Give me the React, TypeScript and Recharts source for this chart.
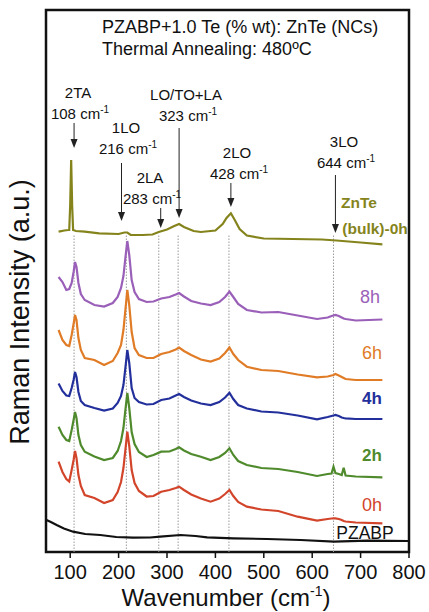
import { LineChart, Line, XAxis, YAxis, ReferenceLine, ReferenceArea } from 'recharts';

// Raman spectra, ZnTe nanocrystals in PZABP glass, stacked with offsets (a.u.)
const wavenumbers = [76, 84, 92, 98, 103, 107, 110, 113, 117, 122, 130, 150, 170, 188, 198, 205, 210, 214, 218, 222, 227, 233, 242, 258, 272, 288, 305, 318, 325, 335, 350, 370, 390, 408, 420, 429, 437, 447, 465, 495, 530, 570, 610, 632, 640, 644, 648, 655, 661, 665, 669, 690, 745];

const intensity8h = [275, 270, 262, 263, 269, 280, 290, 285, 269, 258, 252, 247, 245.5, 249, 255, 264, 276, 294, 311, 297, 272, 260, 253, 250, 250.5, 253.5, 255, 257.5, 259, 255.5, 251, 248.5, 247, 250, 255, 260.5, 255, 248, 242, 239.5, 240, 236.5, 233, 234.5, 236, 236.5, 237, 236, 234.5, 233.5, 233, 231.5, 232.5];
const intensity6h = [222, 212, 207, 206, 217, 228, 237, 232, 214, 202, 194, 192, 187, 191, 199, 207, 222, 242, 262, 247, 220, 204, 197, 194, 194, 198, 200, 202.5, 204.5, 201, 197, 192.5, 190.5, 193.5, 199, 204.5, 198, 192, 185.3, 182, 181, 177.5, 174.7, 175.5, 176.5, 177, 178, 176.5, 175, 174, 173, 172, 172];
const intensity4h = [168.5, 161, 156.5, 156, 164, 172, 180, 175, 160, 151, 147, 144, 141.5, 143.5, 149, 156, 167, 184, 202, 189, 164, 154, 150, 147.5, 148, 152, 153.5, 156.5, 158, 155, 151.5, 148.5, 147, 150, 154.5, 159.3, 153, 147, 143.5, 140.5, 139.5, 136.5, 132.7, 135, 136, 136.5, 137, 136, 134.5, 134, 133.7, 133, 133];
const intensity2h = [125.3, 117, 112, 111, 122, 132, 140, 134, 117, 107, 100.3, 95.5, 92, 94, 101, 111, 124, 142, 159, 144, 120, 108, 100, 95, 97, 100.3, 100.5, 103, 104.7, 101.5, 98, 95.3, 92, 95, 99, 103.7, 97, 91, 87, 84, 83, 80, 76, 78, 78.5, 85.3, 79, 78, 77, 84.3, 76.5, 75.5, 74.7];
const intensity0h = [90.3, 80, 73, 70.5, 82, 92, 101, 94, 77, 66, 57, 54, 49, 52, 60, 70, 84, 102, 120.3, 106, 82, 69, 61, 55.5, 56, 60.3, 62, 64, 65.3, 62, 57.5, 53.5, 50.3, 53.5, 58, 62, 56, 50, 45.3, 42.5, 41, 35.3, 31.3, 33, 33.5, 33.7, 33.7, 33, 32, 31, 30.5, 29.5, 28.7];

const bulkWavenumbers = [76, 88, 96, 98, 100, 102, 104, 106, 112, 130, 160, 200, 212, 218, 225, 250, 270, 283, 300, 315, 325, 335, 355, 370, 400, 415, 423, 432, 440, 450, 465, 500, 560, 620, 650, 700, 745];
const intensityBulk = [320.3, 321.5, 322, 322, 347, 392, 347, 322, 321, 320.3, 318.7, 318, 319.5, 319.5, 317, 317, 317.5, 320, 322.5, 326, 328, 325, 321, 320, 321.5, 328, 334, 338.7, 332, 323, 316.5, 313.5, 313, 312.5, 311.5, 309.5, 307.7];

const pzabpWavenumbers = [51, 60, 72, 87, 106, 131, 162, 195, 230, 265, 286, 328, 359, 383, 437, 507, 576, 645, 715, 800];
const intensityPzabp = [32, 30, 27, 23.5, 20.3, 18, 17, 15, 14.3, 14.5, 15.3, 17, 16, 14.7, 13.7, 13, 12, 10.3, 11.3, 11];

const xTicks = [50, 100, 150, 200, 250, 300, 350, 400, 450, 500, 550, 600, 650, 700, 750, 800];

// assigned modes (dotted guides) and where the arrows sit
const modePositions = [108, 216, 283, 323, 428, 644];
const arrows = [
  { x: 108, from: 429, to: 404 },
  { x: 206, from: 389, to: 331 },
  { x: 287, from: 344, to: 324 },
  { x: 325, from: 424, to: 334 },
  { x: 432, from: 369, to: 345 },
  { x: 648, from: 377, to: 319 },
];

const toPoints = (xs: number[], ys: number[]) => xs.map((x, i) => ({ x, y: ys[i] }));

const series = [
  { key: 'bulk', color: '#85841c', data: toPoints(bulkWavenumbers, intensityBulk) },
  { key: '8h', color: '#9a5fb8', data: toPoints(wavenumbers, intensity8h) },
  { key: '6h', color: '#e07b26', data: toPoints(wavenumbers, intensity6h) },
  { key: '4h', color: '#23309c', data: toPoints(wavenumbers, intensity4h) },
  { key: '2h', color: '#4f8a2c', data: toPoints(wavenumbers, intensity2h) },
  { key: '0h', color: '#d2452b', data: toPoints(wavenumbers, intensity0h) },
  { key: 'PZABP', color: '#111111', data: toPoints(pzabpWavenumbers, intensityPzabp) },
];

const FONT = '"Liberation Sans", Arial, sans-serif';

const AxisTick = ({ x, y, payload }: any) => {
  const major = payload.value % 100 === 0;
  return (
    <g>
      <line x1={x} x2={x} y1={y} y2={y + (major ? 6 : 3.5)} stroke="#111" strokeWidth={1.5} />
      {major && (
        <text x={x} y={y + 27} textAnchor="middle" fontSize={20} fill="#111" fontFamily={FONT}>
          {payload.value}
        </text>
      )}
    </g>
  );
};

const ArrowShape = (props: any) => {
  const { x1, y1, x2, y2 } = props;
  if ([x1, y1, x2, y2].some((v) => typeof v !== 'number' || isNaN(v))) return null;
  const top = Math.min(y1, y2);
  const tip = Math.max(y1, y2);
  return (
    <g>
      <line x1={x1} x2={x1} y1={top} y2={tip - 6} stroke="#222" strokeWidth={1} />
      <polygon points={`${x1 - 3.5},${tip - 9} ${x1 + 3.5},${tip - 9} ${x1},${tip}`} fill="#222" />
    </g>
  );
};

const Sup = ({ size = 10, dy = -6 }: { size?: number; dy?: number }) => (
  <tspan dy={dy} fontSize={size}>-1</tspan>
);

const modeLabels = [
  { name: '2TA', pos: '108 cm', x: 78, y: 98 },
  { name: '1LO', pos: '216 cm', x: 126, y: 133 },
  { name: '2LA', pos: '283 cm', x: 150, y: 183 },
  { name: 'LO/TO+LA', pos: '323 cm', x: 186, y: 100 },
  { name: '2LO', pos: '428 cm', x: 237, y: 158 },
  { name: '3LO', pos: '644 cm', x: 344, y: 147 },
];

const seriesLabels = [
  { text: '8h', color: '#9a5fb8', x: 370, y: 303, size: 18, bold: false },
  { text: '6h', color: '#e07b26', x: 372, y: 359, size: 18, bold: false },
  { text: '4h', color: '#23309c', x: 372, y: 404, size: 17, bold: true },
  { text: '2h', color: '#4f8a2c', x: 372, y: 461, size: 17, bold: true },
  { text: '0h', color: '#d2452b', x: 372, y: 511, size: 18, bold: false },
  { text: 'PZABP', color: '#111', x: 365, y: 539, size: 17.5, bold: false },
];

export default function App() {
  return (
    <div style={{ position: 'absolute', left: 0, top: 0, width: 429, height: 612, background: '#fff' }}>
      <LineChart width={429} height={612} margin={{ top: 10, right: 20, bottom: 0, left: 46 }}>
        <XAxis
          dataKey="x"
          type="number"
          domain={[50, 800]}
          ticks={xTicks}
          tick={<AxisTick />}
          tickLine={false}
          tickSize={0}
          tickMargin={0}
          axisLine={false}
          height={60}
          allowDataOverflow
        />
        <YAxis type="number" domain={[0, 542]} hide allowDataOverflow />
        {modePositions.map((m) => (
          <ReferenceLine
            key={m}
            segment={[{ x: m, y: 0 }, { x: m, y: 317 }]}
            stroke="#9a9a9a"
            strokeWidth={1}
            strokeDasharray="1.5 1.5"
          />
        ))}
        {arrows.map((a) => (
          <ReferenceLine
            key={`arrow-${a.x}`}
            segment={[{ x: a.x, y: a.from }, { x: a.x, y: a.to }]}
            shape={<ArrowShape />}
          />
        ))}
        {series.map((s) => (
          <Line
            key={s.key}
            data={s.data}
            dataKey="y"
            type="linear"
            stroke={s.color}
            strokeWidth={2.2}
            dot={false}
            activeDot={false}
            isAnimationActive={false}
          />
        ))}
        <ReferenceArea x1={50} x2={800} y1={0} y2={542} fill="none" stroke="#111" strokeWidth={2.5} />
      </LineChart>

      <svg width={429} height={612} style={{ position: 'absolute', left: 0, top: 0, pointerEvents: 'none' }} fontFamily={FONT}>
        <text x={102} y={33} fontSize={18} fill="#111">PZABP+1.0 Te (% wt): ZnTe (NCs)</text>
        <text x={102} y={55} fontSize={18} fill="#111">Thermal Annealing: 480ºC</text>

        {modeLabels.map((m) => (
          <g key={m.name} fontSize={15} fill="#111" textAnchor="middle">
            <text x={m.x} y={m.y}>{m.name}</text>
            <text x={m.x + 2} y={m.y + 21}>
              {m.pos}
              <Sup />
            </text>
          </g>
        ))}

        <text x={359} y={208} fontSize={15.5} fontWeight="bold" fill="#85841c" textAnchor="middle">ZnTe</text>
        <text x={375} y={234} fontSize={15.5} fontWeight="bold" fill="#85841c" textAnchor="middle">(bulk)-0h</text>
        {seriesLabels.map((l) => (
          <text key={l.text} x={l.x} y={l.y} fontSize={l.size} fontWeight={l.bold ? 'bold' : 'normal'} fill={l.color} textAnchor="middle">
            {l.text}
          </text>
        ))}

        <text x={226} y={606} fontSize={24} fill="#111" textAnchor="middle">
          Wavenumber (cm<Sup size={14} dy={-10} /><tspan dy={10}>)</tspan>
        </text>
        <text x={29} y={312} fontSize={27} fill="#111" textAnchor="middle" transform="rotate(-90 29 312)">
          Raman Intensity (a.u.)
        </text>
      </svg>
    </div>
  );
}
